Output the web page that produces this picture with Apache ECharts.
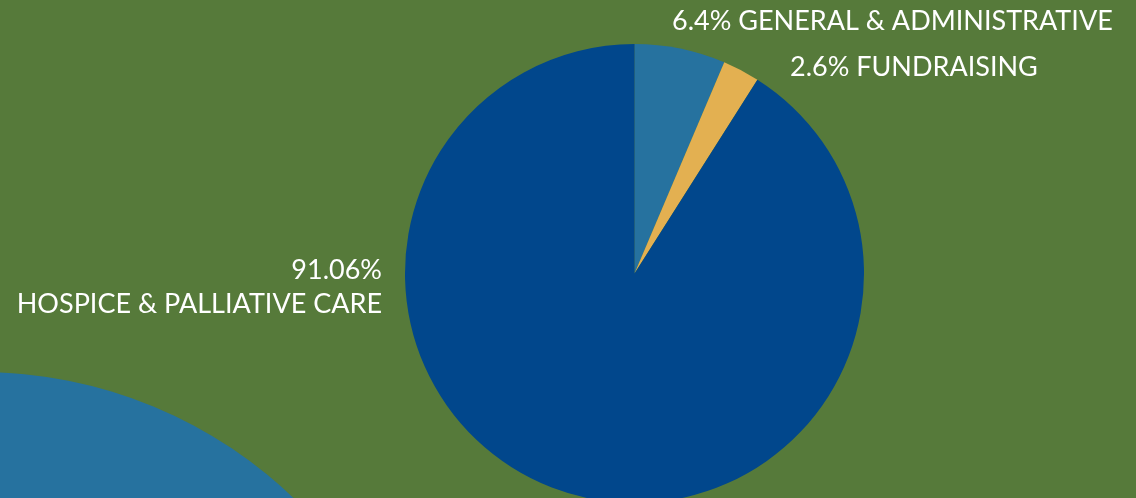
<!DOCTYPE html>
<html>
<head>
<meta charset="utf-8">
<script src="https://cdn.jsdelivr.net/npm/echarts@6/dist/echarts.min.js"></script>
<style>
html,body{margin:0;padding:0;background:#567a3a;}
#chart{width:1136px;height:498px;}
</style>
</head>
<body>
<div id="chart"></div>
<script>
// Data
const categories = ['GENERAL & ADMINISTRATIVE', 'FUNDRAISING', 'HOSPICE & PALLIATIVE CARE'];
const values = [6.4, 2.6, 91.06];
const sliceColors = ['#26729f', '#e3b051', '#01478c'];

// Label placements (layout only)
const labelPos = [
  {x: 672, y: 21, align: 'left'},
  {x: 790, y: 67, align: 'left'},
  {x: 382, y: 287, align: 'right'}
];

const chart = echarts.init(document.getElementById('chart'), null, {renderer: 'canvas'});
const option = {
  backgroundColor: '#567a3a',
  animation: false,
  graphic: [{
    type: 'circle',
    shape: {cx: -20, cy: 825, r: 453},
    style: {fill: '#26729f'},
    z: 0
  }],
  series: [{
    type: 'pie',
    center: [634.5, 273.5],
    radius: [0, 229.5],
    startAngle: 90,
    clockwise: true,
    z: 2,
    itemStyle: {borderWidth: 0},
    label: {
      show: true,
      position: 'outside',
      color: '#ffffff',
      fontFamily: 'Lato',
      fontSize: 27,
      lineHeight: 34,
      overflow: 'none',
      formatter: function (p) {
        return p.dataIndex === 2 ? p.value + '%\n' + p.name : p.value + '% ' + p.name;
      }
    },
    labelLine: {show: false},
    labelLayout: function (p) {
      const l = labelPos[p.dataIndex];
      return {x: l.x, y: l.y, align: l.align, verticalAlign: 'middle', hideOverlap: false};
    },
    emphasis: {disabled: true},
    data: categories.map((c, i) => ({name: c, value: values[i], itemStyle: {color: sliceColors[i]}}))
  }]
};
chart.setOption(option);
</script>
</body>
</html>
